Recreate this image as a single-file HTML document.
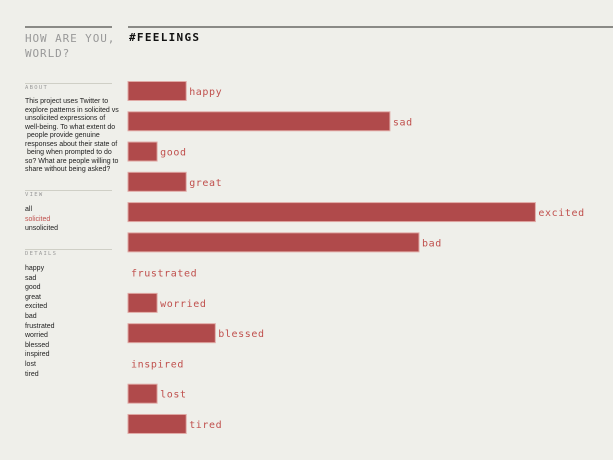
<!DOCTYPE html>
<html><head><meta charset="utf-8"><style>
body{margin:0;width:613px;height:460px;background:#efefea;position:relative;overflow:hidden;font-family:"Liberation Sans",sans-serif}
.abs{position:absolute}
.mono{font-family:"DejaVu Sans Mono","Liberation Mono",monospace}
.sec{font-size:5.5px;letter-spacing:1.3px;color:#999;font-family:"DejaVu Sans Mono",monospace}
.txt{font-size:7px;color:#222;line-height:9.6px}
.hr{position:absolute;height:1px;background:#cfcfc6}
</style></head><body>
<div class="abs" style="left:25px;top:26px;width:87px;height:2px;background:#8a8a86"></div>
<div class="abs" style="left:128px;top:26px;width:485px;height:2px;background:#8a8a86"></div>
<div class="abs mono" style="left:25px;top:31px;font-size:11px;letter-spacing:0.9px;color:#999;line-height:15px;white-space:nowrap">HOW ARE YOU,<br>WORLD?</div>
<div class="abs mono" style="left:129px;top:31px;font-size:11px;letter-spacing:1.3px;color:#111;font-weight:bold">#FEELINGS</div>
<div class="hr" style="left:25px;top:83px;width:87px"></div>
<div class="abs sec" style="left:25px;top:85px">ABOUT</div>
<div class="abs txt" style="left:25px;top:98px;line-height:8.5px;white-space:nowrap">This project uses Twitter to<br>explore patterns in solicited vs<br>unsolicited expressions of<br>well-being. To what extent do<br>&nbsp;people provide genuine<br>responses about their state of<br>&nbsp;being when prompted to do<br>so? What are people willing to<br>share without being asked?</div>
<div class="hr" style="left:25px;top:190px;width:87px"></div>
<div class="abs sec" style="left:25px;top:192px">VIEW</div>
<div class="abs txt" style="left:25px;top:205px">all</div>
<div class="abs txt" style="left:25px;top:214.6px;color:#c0504d">solicited</div>
<div class="abs txt" style="left:25px;top:224.2px">unsolicited</div>
<div class="hr" style="left:25px;top:249px;width:87px"></div>
<div class="abs sec" style="left:25px;top:251px">DETAILS</div>
<div id="details" class="abs txt" style="left:25px;top:264px"></div>
<svg id="chart" class="abs" style="left:0;top:0" width="613" height="460"></svg>
<script>
const categories=["happy","sad","good","great","excited","bad","frustrated","worried","blessed","inspired","lost","tired"];
const values=[2,9,1,2,14,10,0,1,3,0,1,2];
const x0=128,unit=29.1,y0=91,step=30.27,bh=19;
const xs=v=>v*unit, ys=i=>y0+i*step;
const svg=document.getElementById('chart'),NS="http://www.w3.org/2000/svg";
const det=document.getElementById('details');
categories.forEach((c,i)=>{
 const w=xs(values[i]);
 if(w>0){const r=document.createElementNS(NS,'rect');
 
 
 r.setAttribute('x',x0);r.setAttribute('y',ys(i)-bh/2);r.setAttribute('width',w);r.setAttribute('height',bh);
 r.setAttribute('fill','#b04a4b');r.setAttribute('stroke','#e0a9a5');r.setAttribute('stroke-width','1');svg.appendChild(r);}
 const t=document.createElementNS(NS,'text');
 
 
 t.setAttribute('x',x0+w+3);t.setAttribute('y',ys(i)+4);
 t.setAttribute('font-family','DejaVu Sans Mono, Liberation Mono, monospace');t.setAttribute('font-size','10');
 t.setAttribute('letter-spacing','0.6');t.setAttribute('fill','#c0504d');t.textContent=c;svg.appendChild(t);
 const d=document.createElement('div');
 
 
 d.textContent=c;det.appendChild(d);
});
</script>
</body></html>
